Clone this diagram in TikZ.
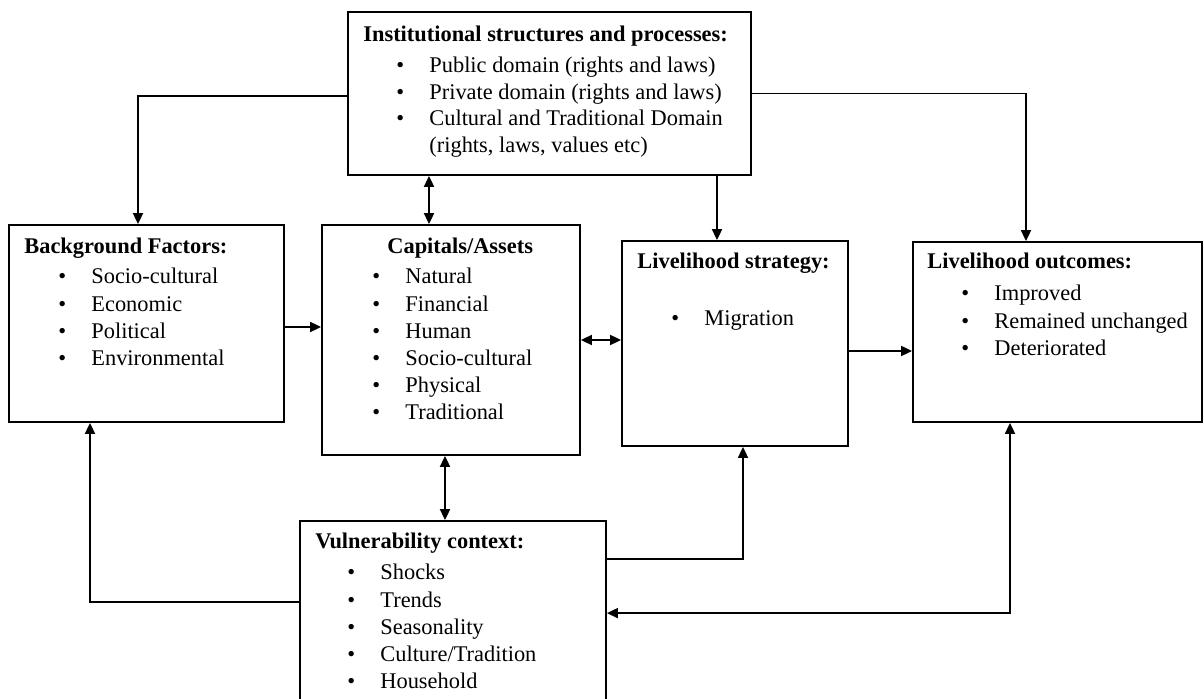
\documentclass[tikz,border=0pt]{standalone}
\usepackage{fontspec}
\setmainfont{Liberation Serif}
\usetikzlibrary{arrows.meta,fit}
\newcommand\bitem[1]{\makebox[16.5pt][l]{\textbullet}#1}
\begin{document}
\begin{tikzpicture}[x=0.5pt,y=-0.5pt,
  box/.style={draw, line width=0.9pt, inner sep=0pt},
  hd/.style={anchor=base west, inner sep=0pt, font=\bfseries\fontsize{11.2}{13.6}\selectfont},
  lst/.style={anchor=base west, inner sep=0pt, font=\fontsize{11.2}{13.6}\selectfont},
  lsti/.style={anchor=base west, inner sep=0pt, font=\fontsize{11.2}{13.2}\selectfont},
  arr/.style={-{Triangle[length=5.5pt,width=5pt]}, line width=0.9pt},
  dbl/.style={{Triangle[length=5.5pt,width=5pt]}-{Triangle[length=5.5pt,width=5pt]}, line width=0.9pt}]
\useasboundingbox (0,0) rectangle (1204,699);
\clip (0,0) rectangle (1204,699);
% boxes
\coordinate (i1) at (348,12); \coordinate (i2) at (751,175);
\coordinate (b1) at (9,225); \coordinate (b2) at (284,422);
\coordinate (c1) at (322,225); \coordinate (c2) at (580,455);
\coordinate (s1) at (622,241); \coordinate (s2) at (848,446);
\coordinate (o1) at (913,242); \coordinate (o2) at (1202,422);
\coordinate (v1) at (300,521); \coordinate (v2) at (606,712);
\node[box, fit=(i1)(i2)] (inst) {};
\node[box, fit=(b1)(b2)] (bg) {};
\node[box, fit=(c1)(c2)] (cap) {};
\node[box, fit=(s1)(s2)] (strat) {};
\node[box, fit=(o1)(o2)] (out) {};
\node[box, fit=(v1)(v2)] (vul) {};
% texts
\node[hd] (instH) at (363,42) {Institutional structures and processes:};
\node[lsti] (instL) at (396,73) {\begin{tabular}[t]{@{}l@{}}
\bitem{Public domain (rights and laws)}\\
\bitem{Private domain (rights and laws)}\\
\bitem{Cultural and Traditional Domain}\\
\hspace*{16.5pt}(rights, laws, values etc)
\end{tabular}};
\node[hd] (bgH) at (24,254) {Background Factors:};
\node[lst] (bgL) at (58,284) {\begin{tabular}[t]{@{}l@{}}
\bitem{Socio-cultural}\\
\bitem{Economic}\\
\bitem{Political}\\
\bitem{Environmental}
\end{tabular}};
\node[hd] (capH) at (387,254) {Capitals/Assets};
\node[lst] (capL) at (372,284) {\begin{tabular}[t]{@{}l@{}}
\bitem{Natural}\\
\bitem{Financial}\\
\bitem{Human}\\
\bitem{Socio-cultural}\\
\bitem{Physical}\\
\bitem{Traditional}
\end{tabular}};
\node[hd] (stratH) at (637,269) {Livelihood strategy:};
\node[lst] (stratL) at (671,326) {\bitem{Migration}};
\node[hd] (outH) at (927,269) {Livelihood outcomes:};
\node[lst] (outL) at (961,301) {\begin{tabular}[t]{@{}l@{}}
\bitem{Improved}\\
\bitem{Remained unchanged}\\
\bitem{Deteriorated}
\end{tabular}};
\node[hd] (vulH) at (315,548) {Vulnerability context:};
\node[lst] (vulL) at (347,580) {\begin{tabular}[t]{@{}l@{}}
\bitem{Shocks}\\
\bitem{Trends}\\
\bitem{Seasonality}\\
\bitem{Culture/Tradition}\\
\bitem{Household}
\end{tabular}};
% connectors
\draw[arr] ([yshift=-1.25pt]inst.west) -| ([xshift=-4.25pt]bg.north);
\draw[arr] (inst.east) -| ([xshift=-15.75pt]out.north);
\draw[dbl] ([xshift=-11pt]cap.north) -- ([xshift=-11pt]cap.north |- inst.south);
\draw[arr] ([xshift=-9pt]strat.north |- inst.south) -- ([xshift=-9pt]strat.north);
\draw[arr] ([yshift=-1.75pt]bg.east) -- ([yshift=-1.75pt]bg.east -| cap.west);
\draw[dbl] (cap.east) -- (cap.east -| strat.west);
\draw[arr] ([yshift=-3.75pt]strat.east) -- ([yshift=-3.75pt]strat.east -| out.west);
\draw[dbl] ([xshift=-3pt]cap.south) -- ([xshift=-3pt]cap.south |- vul.north);
\draw[arr] ([yshift=-41pt]vul.north west) -| ([xshift=-28.25pt]bg.south);
\draw[arr] ([yshift=-19.5pt]vul.north east) -| ([xshift=4pt]strat.south);
\draw[dbl] ([xshift=-23.75pt]out.south) |- ([yshift=-46.5pt]vul.north east);
\end{tikzpicture}
\end{document}
